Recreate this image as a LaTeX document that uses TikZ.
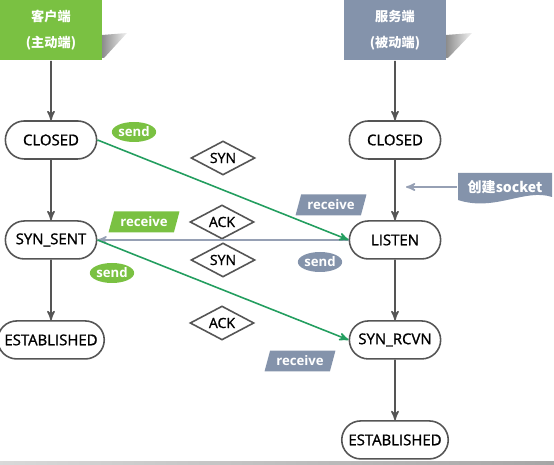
\documentclass[tikz,border=0pt]{standalone}
\usepackage{fontspec}
\setmainfont{Open Sans}
\newfontfamily\cjk{Noto Sans CJK SC}
\newfontfamily\stfont{Open Sans}[FakeBold=1.2]
\usepackage{tikz}
\usetikzlibrary{arrows,positioning,calc}
\usetikzlibrary{shapes.geometric,shapes.misc}
\definecolor{clientgreen}{RGB}{122,193,66}
\definecolor{serverblue}{RGB}{132,147,171}
\definecolor{linkgreen}{RGB}{35,158,95}
\definecolor{linkgray}{RGB}{150,160,180}
\definecolor{edgegray}{RGB}{85,85,85}

\begin{document}
\begin{tikzpicture}[->,>=stealth',x=0.02cm,y=-0.02cm,node distance=2cm,
			line width=0.9pt]
			\tikzstyle{every node}=[font=\stfont\fontsize{8.5}{10}\selectfont]
			\tikzstyle{side}=[rectangle,minimum width=2.04cm,minimum height=1.2cm,text=white,align=center,font=\cjk\bfseries\fontsize{7.5}{14.5}\selectfont]
			\tikzstyle{tcpstate}=[rounded rectangle,draw=edgegray,fill=white,text=black,minimum width=2.06cm,minimum height=0.76cm]
			\tikzstyle{packet}=[diamond,draw=edgegray,fill=white,text=black,aspect=1.9,minimum width=1.28cm,minimum height=0.68cm,inner sep=0pt,font=\stfont\fontsize{8}{10}\selectfont]
			\tikzstyle{sendtag}=[ellipse,text=white,minimum width=0.8cm,minimum height=0.4cm,inner sep=0pt,font=\bfseries\fontsize{7.5}{9}\selectfont]
			\tikzstyle{recvtag}=[trapezium,trapezium left angle=61,trapezium right angle=119,trapezium stretches body,text=white,minimum width=1.42cm,minimum height=0.42cm,inner sep=0pt,font=\bfseries\fontsize{7.5}{9}\selectfont]
			
			\useasboundingbox (0,0) rectangle (554,465);
			
			\shade[left color=black!45,right color=black!5] (102,35) -- (127,33) -- (104,58) -- (102,58) -- cycle;
			
			\shade[left color=black!45,right color=black!5] (446,35) -- (472,33) -- (448,58) -- (446,58) -- cycle;
			
			\node[side, fill=clientgreen]    (C0) at (51,30)         {客户端\\(主动端)};
			
			\node[tcpstate]    (C1)[below of = C0, yshift=-0.2cm]		{CLOSED};
			
			\node[tcpstate]    (C2)[below of = C1]		{SYN\_SENT};
			
			\node[tcpstate]    (C3)[below of = C2]		{ESTABLISHED};
			
			\node[side, fill=serverblue]    (S0) at (395,30)         {服务端\\(被动端)};
			
			\node[tcpstate]    (S1)[below of = S0, yshift=-0.2cm]		{CLOSED};
			
			\node[tcpstate]    (S2)[below of = S1]		{LISTEN};
			
			\node[tcpstate]    (S3)[below of = S2]		{SYN\_RCVN};
			
			\node[tcpstate]    (S4)[below of = S3]		{ESTABLISHED};
			
			\node[packet]    (P1) at (223,158)		{SYN};
			
			\node[packet]    (P2) at (222,222)		{ACK};
			
			\node[packet]    (P3) at (223,260)		{SYN};
			
			\node[packet]    (P4) at (222,323)		{ACK};
			
			\node[sendtag, fill=clientgreen]    (L1) at (134,132)		{send};
			
			\node[recvtag, fill=clientgreen]    (L2) at (144,222)		{receive};
			
			\node[sendtag, fill=clientgreen]    (L3) at (112,273)		{send};
			
			\node[recvtag, fill=serverblue]    (L4) at (331,205)		{receive};
			
			\node[sendtag, fill=serverblue]    (L5) at (320,262)		{send};
			
			\node[recvtag, fill=serverblue]    (L6) at (300,361)		{receive};
			
			\fill[serverblue] (458,173) -- (552,173) -- (552,197) .. controls (525,188) and (495,212) .. (458,200) -- cycle;
			
			\node[minimum width=1.88cm, text=white, font=\cjk\bfseries\fontsize{8}{10}\selectfont]    (K) at (505,187)		{创建socket};
			
			\coordinate (K1) at (406,187);
			
			\shade[left color=gray!30,right color=gray!70] (0,461) rectangle (554,465);
			
			\path[edgegray]
			
			(C0) edge (C1)
			
			(C1) edge (C2)
			
			(C2) edge (C3)
			
			(S0) edge (S1)
			
			(S1) edge (S2)
			
			(S2) edge (S3)
			
			(S3) edge (S4)
			
			(K.west) edge[linkgray] (K1)
			
			(S2.west) edge[linkgray] (C2.east)
			
			(C1.east) edge[linkgreen] (S2.west)
			
			(C2.east) edge[linkgreen] (S3.west);
			
			\end{tikzpicture}
\end{document}
